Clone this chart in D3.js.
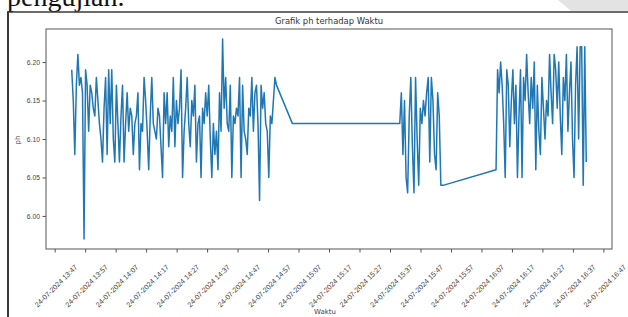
<!DOCTYPE html>
<html>
<head>
<meta charset="utf-8">
<script src="https://cdn.jsdelivr.net/npm/d3@7"></script>
<style>
	body { margin: 0; background: #fff; }
	svg { display: block; font-family: "DejaVu Sans", sans-serif; }
</style>
</head>
<body>
<svg id="chart" width="628" height="317"></svg>
<script>
const tanggal = "2024-07-24";

// pH readings, one array per logging session
const phSesi1 = [
	6.19,6.15,6.08,6.17,6.21,6.17,6.18,6.16,5.97,6.19,6.17,6.11,6.17,6.16,6.14,6.13,6.18,6.15,6.12,6.10,
	6.07,6.14,6.18,6.08,6.19,6.12,6.19,6.10,6.07,6.17,6.12,6.07,6.13,6.17,6.07,6.12,6.16,6.11,6.14,6.13,
	6.08,6.12,6.13,6.16,6.06,6.12,6.11,6.18,6.15,6.11,6.06,6.13,6.18,6.12,6.11,6.10,6.14,6.13,6.09,6.05,
	6.16,6.12,6.16,6.09,6.13,6.11,6.18,6.09,6.15,6.12,6.14,6.19,6.05,6.11,6.14,6.18,6.12,6.09,6.15,6.13,
	6.17,6.07,6.12,6.13,6.05,6.14,6.12,6.16,6.13,6.17,6.10,6.05,6.12,6.08,6.11,6.06,6.16,6.11,6.23,6.14,
	6.18,6.12,6.11,6.17,6.05,6.13,6.12,6.14,6.13,6.18,6.05,6.17,6.11,6.10,6.08,6.14,6.13,6.18,6.11,6.16,
	6.17,6.12,6.02,6.17,6.14,6.16,6.12,6.11,6.05,6.13,6.12,6.15,6.18,6.17
];
const phSesi2 = [
	6.12,6.16,6.08,6.15,6.05,6.03,6.13,6.18,6.09,6.03,6.18,6.10,6.04,6.14,6.12,6.15,6.13,6.16,6.18,6.07,
	6.18,6.15,6.08,6.06,6.16,6.13,6.04
];
const phSesi3 = [
	6.06,6.19,6.16,6.20,6.17,6.12,6.05,6.19,6.17,6.09,6.15,6.19,6.12,6.17,6.05,6.13,6.19,6.05,6.18,6.15,
	6.21,6.16,6.12,6.18,6.14,6.20,6.06,6.17,6.11,6.08,6.18,6.14,6.10,6.15,6.13,6.21,6.16,6.12,6.21,6.19,
	6.14,6.20,6.13,6.08,6.18,6.15,6.21,6.11,6.16,6.20,6.10,6.05,6.17,6.22,6.10,6.22,6.22,6.04,6.22,6.07
];
const sesiMulai = ["13:52:36", "15:40:12", "16:11:47"];
const sesiInterval = [30.3, 31.1, 30.1]; // seconds between readings

// single readings logged between the sessions
const antaraWaktu = ["15:04:59", "15:54:40"];
const antaraPh = [6.12, 6.04];

const xTickLabels = ["13:47:00","13:57:00","14:07:00","14:17:00","14:27:00","14:37:00","14:47:00",
	"14:57:00","15:07:00","15:17:00","15:27:00","15:37:00","15:47:00","15:57:00","16:07:00","16:17:00",
	"16:27:00","16:37:00","16:47:00"];
const yTicks = [6.00, 6.05, 6.10, 6.15, 6.20];

const parseWaktu = d3.utcParse("%Y-%m-%d %H:%M:%S");
const toDate = (t) => parseWaktu(`${tanggal} ${t}`);

const buildData = () => {
	let sesi = [phSesi1, phSesi2, phSesi3].map((vals, s) => {
		let t0 = +toDate(sesiMulai[s]);
		return vals.map((v, i) => ({date: new Date(t0 + Math.round(i * sesiInterval[s] * 1000)), ph: v}));
	});
	let antara = antaraWaktu.map((t, i) => ({date: toDate(t), ph: antaraPh[i]}));
	return [...sesi[0], antara[0], ...sesi[1], antara[1], ...sesi[2]];
}

const padded = (ext) => {
	let lo = +ext[0], hi = +ext[1];
	let pad = (hi - lo) * 0.05;
	return [lo - pad, hi + pad];
}

const drawPage = (svg) => {
	// bits of the document page around the figure
	svg.append("polygon")
		.attr("points", "558,0 628,0 628,11 571,11")
		.style("fill", "#e3e3e3");
	svg.append("text")
		.attr("x", 7)
		.attr("y", 6)
		.style("font-family", "'Liberation Serif', serif")
		.style("font-size", "28px")
		.style("fill", "#111")
		.text("pengujian.");
	svg.append("line")
		.attr("x1", 7).attr("x2", 628)
		.attr("y1", 12).attr("y2", 12)
		.style("stroke", "#3a3a3a")
		.style("stroke-width", 1.5);
	svg.append("line")
		.attr("x1", 8).attr("x2", 8)
		.attr("y1", 12).attr("y2", 317)
		.style("stroke", "#3a3a3a")
		.style("stroke-width", 2);
}

const phChart = (svg_name) => {
	let chart = d3.select(svg_name);
	let plot = {left: 46, right: 612, top: 29, bottom: 249};
	let data = buildData();

	let x = d3.scaleUtc()
		.domain(padded(d3.extent(data, (d) => d.date)))
		.range([plot.left, plot.right]);
	let y = d3.scaleLinear()
		.domain(padded(d3.extent(data, (d) => d.ph)))
		.range([plot.bottom, plot.top]);

	drawPage(chart);

	chart.append("rect")
		.attr("x", plot.left)
		.attr("y", plot.top)
		.attr("width", plot.right - plot.left)
		.attr("height", plot.bottom - plot.top)
		.style("fill", "none")
		.style("stroke", "#555")
		.style("stroke-width", 1);

	let valueLine = d3.line()
		.x((d) => x(d.date))
		.y((d) => y(d.ph));
	chart.append("path")
		.datum(data)
		.attr("d", valueLine)
		.style("fill", "none")
		.style("stroke", "#1f77b4")
		.style("stroke-width", 1.5)
		.style("stroke-linejoin", "round");

	let x_axis = d3.axisBottom(x)
		.tickValues(xTickLabels.map((t) => toDate(t)))
		.tickFormat(d3.utcFormat("%d-%m-%Y %H:%M"))
		.tickSize(3.5);
	let gx = chart.append("g")
		.attr("transform", `translate(0,${plot.bottom})`)
		.call(x_axis);
	gx.select(".domain").remove();
	gx.selectAll("line").style("stroke", "#555");
	gx.selectAll("text")
		.attr("y", 0)
		.attr("dy", "0.32em")
		.attr("transform", "translate(1,37) rotate(-45)")
		.style("text-anchor", "middle")
		.style("font-size", "7.2px")
		.style("fill", "#444");

	let y_axis = d3.axisLeft(y)
		.tickValues(yTicks)
		.tickFormat(d3.format(".2f"))
		.tickSize(3.5)
		.tickPadding(2.5);
	let gy = chart.append("g")
		.attr("transform", `translate(${plot.left},0)`)
		.call(y_axis);
	gy.select(".domain").remove();
	gy.selectAll("line").style("stroke", "#555");
	gy.selectAll("text")
		.style("font-size", "6.8px")
		.style("fill", "#444");

	chart.append("text")
		.attr("x", (plot.left + plot.right) / 2)
		.attr("y", 24)
		.style("text-anchor", "middle")
		.style("font-size", "8.4px")
		.style("fill", "#333")
		.text("Grafik ph terhadap Waktu");

	chart.append("text")
		.attr("transform", "rotate(-90)")
		.attr("x", -140)
		.attr("y", 20)
		.style("text-anchor", "middle")
		.style("font-size", "7px")
		.style("fill", "#444")
		.text("ph");

	chart.append("text")
		.attr("x", 325)
		.attr("y", 314)
		.style("text-anchor", "middle")
		.style("font-size", "7px")
		.style("fill", "#444")
		.text("Waktu");
}

phChart("#chart");
</script>
</body>
</html>
